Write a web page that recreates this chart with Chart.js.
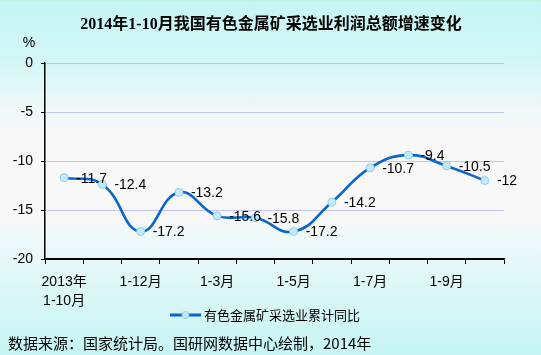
<!DOCTYPE html>
<html>
<head>
<meta charset="utf-8">
<script src="https://cdn.jsdelivr.net/npm/chart.js@4"></script>
<style>
  html, body { margin: 0; padding: 0; }
  body {
    width: 541px; height: 355px; overflow: hidden;
    background: linear-gradient(to bottom, #bfeedd 0px, #c6f5f5 2px, #d2f6f6 60px, #f0f8f8 110px, #f8f8f8 135px, #f8f8f8 220px, #eef9f9 240px, #d8f6f6 300px, #c6f5f5 355px);
  }
  #wrap { position: relative; width: 541px; height: 355px; }
</style>
</head>
<body>
<div id="wrap"><canvas id="chart" width="541" height="355"></canvas></div>
<script>
// Period labels (2013年1-10月 .. 2014年1-10月)
let categories = [
  ['2013年', '1-10月'], '1-11月', '1-12月', '1-2月', '1-3月', '1-4月',
  '1-5月', '1-6月', '1-7月', '1-8月', '1-9月', '1-10月'
]
// Only every other label is shown on the axis
let shownIndex = [0, 2, 4, 6, 8, 10]

// Cumulative y/y growth of profits, %
let growth = [-11.7, -12.4, -17.2, -13.2, -15.6, -15.8, -17.2, -14.2, -10.7, -9.4, -10.5, -12]

let yTicks = [0, -5, -10, -15, -20]

let titleText = '2014年1-10月我国有色金属矿采选业利润总额增速变化'
let seriesName = '有色金属矿采选业累计同比'
let sourceText = '数据来源：国家统计局。国研网数据中心绘制，2014年'

let lineColor = '#0a66cc'
let pointFill = '#c4eaf9'
let pointEdge = '#8ecdf0'
let textFont = '"Liberation Sans", Arial, "Noto Sans CJK SC", sans-serif'
let cjkFont = '"Noto Sans CJK SC", sans-serif'

// Draws title, unit, value labels, legend and source note
let decorations = {
  id: 'decorations',
  afterDatasetsDraw(chart) {
    let ctx = chart.ctx
    ctx.save()
    ctx.fillStyle = '#000'

    // title
    ctx.font = 'bold 16px "Liberation Serif", "Noto Sans CJK SC", serif'
    ctx.textAlign = 'center'
    ctx.textBaseline = 'middle'
    ctx.fillText(titleText, 271, 25)

    // unit
    ctx.font = '14px ' + textFont
    ctx.fillText('%', 29, 43)

    // value labels to the right of each point
    ctx.textAlign = 'left'
    let meta = chart.getDatasetMeta(0)
    meta.data.forEach((pt, i) => {
      ctx.fillText(String(growth[i]), pt.x + 12, pt.y + 1)
    })

    // legend
    let ly = 315
    ctx.strokeStyle = lineColor
    ctx.lineWidth = 3
    ctx.beginPath()
    ctx.moveTo(170, ly)
    ctx.lineTo(201, ly)
    ctx.stroke()
    ctx.beginPath()
    ctx.arc(185.5, ly, 3.5, 0, Math.PI * 2)
    ctx.fillStyle = pointFill
    ctx.fill()
    ctx.lineWidth = 1
    ctx.strokeStyle = pointEdge
    ctx.stroke()
    ctx.fillStyle = '#000'
    ctx.font = '13px ' + cjkFont
    ctx.fillText(seriesName, 204, ly)

    // source note
    ctx.font = '15px ' + cjkFont
    ctx.fillText(sourceText, 8, 343)
    ctx.restore()
  }
}

let chart = new Chart(document.getElementById('chart'), {
  type: 'line',
  data: {
    labels: categories,
    datasets: [{
      label: seriesName,
      data: growth,
      borderColor: lineColor,
      borderWidth: 2.6,
      tension: 0.45,
      pointRadius: 4,
      pointBackgroundColor: pointFill,
      pointBorderColor: pointEdge,
      pointBorderWidth: 1
    }]
  },
  options: {
    responsive: false,
    animation: false,
    layout: { padding: { top: 63, right: 37, bottom: 35, left: 0 } },
    plugins: {
      legend: { display: false },
      title: { display: false },
      tooltip: { enabled: false }
    },
    scales: {
      x: {
        offset: true,
        grid: {
          offset: true,
          drawOnChartArea: false,
          color: '#000',
          tickLength: 5
        },
        border: { color: '#000', width: 1.5 },
        ticks: {
          autoSkip: false,
          maxRotation: 0,
          padding: 9,
          color: '#000',
          font: { size: 14, family: textFont, lineHeight: 1.35 },
          callback: (v, i) => shownIndex.includes(i) ? categories[i] : ''
        },
        afterFit: (scale) => { scale.height = 61 }
      },
      y: {
        min: -20,
        max: 0,
        afterBuildTicks: (scale) => { scale.ticks = yTicks.map((v) => ({ value: v })) },
        grid: {
          color: (c) => c.tick && c.tick.value === -20 ? '#000' : '#c4c4f2',
          tickColor: '#000',
          tickLength: 4,
          lineWidth: 1
        },
        border: { color: '#000', width: 1.5 },
        ticks: {
          padding: 8,
          color: '#000',
          font: { size: 14, family: textFont }
        },
        afterFit: (scale) => { scale.width = 45 }
      }
    }
  },
  plugins: [decorations]
})
</script>
</body>
</html>
